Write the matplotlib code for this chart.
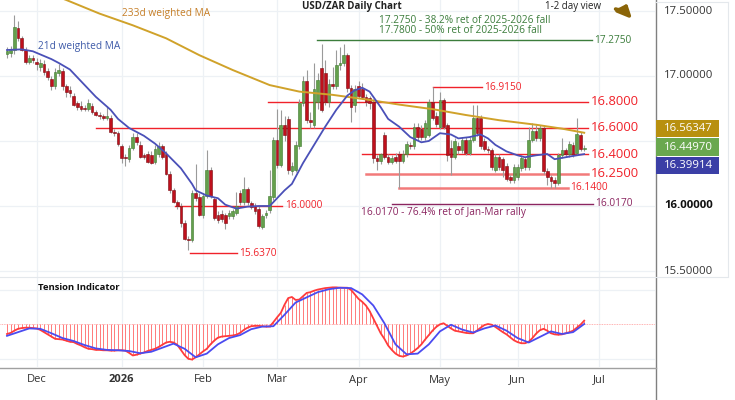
import numpy as np
import pandas as pd
import matplotlib
matplotlib.use('Agg')
import matplotlib.pyplot as plt
from matplotlib.patches import Rectangle, FancyArrowPatch
from matplotlib.lines import Line2D

plt.rcParams['font.family'] = ['Open Sans', 'DejaVu Sans']

# ---------------- data ----------------
start_date = '2025-11-19'

opens = [17.17, 17.18, 17.20, 17.37, 17.29, 17.20, 17.11, 17.14, 17.11, 17.07,
         17.09, 17.04, 16.98, 16.92, 17.02, 17.04, 16.92, 16.89, 16.85, 16.79,
         16.77, 16.75, 16.745, 16.77, 16.72, 16.70, 16.69, 16.68, 16.68, 16.57,
         16.56, 16.46, 16.38, 16.36, 16.45, 16.53, 16.47, 16.39, 16.40, 16.39,
         16.34, 16.40, 16.46, 16.40, 16.25, 16.12, 16.03, 16.00, 15.87, 15.75,
         15.74, 16.10, 16.07, 15.93, 16.08, 16.28, 16.05, 15.93, 15.94, 15.93,
         15.92, 15.92, 15.95, 16.10, 16.03, 16.13, 16.02, 16.00, 15.98, 15.84,
         15.93, 15.97, 16.07, 16.51, 16.315, 16.62, 16.67, 16.27, 16.28, 16.46,
         16.79, 16.96, 16.66, 16.62, 16.80, 17.06, 17.02, 16.80, 16.94, 16.92,
         17.085, 17.10, 17.16, 16.905, 16.78, 16.92, 16.90, 16.84, 16.83, 16.80,
         16.37, 16.35, 16.55, 16.38, 16.34, 16.38, 16.40, 16.35, 16.40, 16.47,
         16.46, 16.61, 16.59, 16.53, 16.55, 16.80, 16.69, 16.61, 16.815, 16.62,
         16.45, 16.38, 16.46, 16.43, 16.51, 16.41, 16.51, 16.68, 16.68, 16.50,
         16.44, 16.43, 16.28, 16.38, 16.36, 16.31, 16.22, 16.20, 16.22, 16.29,
         16.36, 16.30, 16.51, 16.58, 16.52, 16.60, 16.27, 16.22, 16.20, 16.18,
         16.39, 16.43, 16.40, 16.47, 16.41, 16.55, 16.44]
highs = [17.22, 17.23, 17.47, 17.42, 17.31, 17.22, 17.16, 17.16, 17.14, 17.13,
         17.12, 17.06, 17.00, 17.06, 17.09, 17.06, 16.94, 16.92, 16.87, 16.81,
         16.81, 16.78, 16.82, 16.79, 16.74, 16.72, 16.71, 16.77, 16.70, 16.59,
         16.58, 16.48, 16.40, 16.47, 16.56, 16.56, 16.50, 16.41, 16.42, 16.42,
         16.47, 16.49, 16.48, 16.42, 16.27, 16.14, 16.05, 16.02, 15.89, 15.77,
         16.12, 16.32, 16.10, 16.10, 16.43, 16.30, 16.07, 15.96, 15.97, 15.95,
         15.97, 15.98, 16.11, 16.12, 16.22, 16.15, 16.04, 16.02, 16.00, 15.94,
         15.97, 16.28, 16.53, 16.75, 16.74, 16.69, 16.69, 16.34, 16.50, 16.82,
         17.00, 17.05, 16.72, 17.10, 17.02, 17.25, 17.12, 16.98, 17.07, 17.20,
         17.22, 17.25, 17.18, 16.93, 16.93, 16.96, 16.95, 16.86, 16.85, 16.82,
         16.39, 16.41, 16.57, 16.40, 16.39, 16.41, 16.42, 16.43, 16.50, 16.49,
         16.64, 16.64, 16.62, 16.66, 16.82, 16.915, 16.72, 16.88, 16.83, 16.64,
         16.51, 16.52, 16.49, 16.53, 16.53, 16.53, 16.78, 16.78, 16.70, 16.52,
         16.46, 16.45, 16.40, 16.40, 16.38, 16.33, 16.24, 16.32, 16.32, 16.39,
         16.38, 16.61, 16.64, 16.62, 16.62, 16.62, 16.29, 16.24, 16.22, 16.41,
         16.52, 16.45, 16.50, 16.49, 16.68, 16.57, 16.47]
lows = [17.14, 17.15, 17.17, 17.27, 17.19, 17.09, 17.09, 17.10, 17.05, 17.04,
        17.01, 16.97, 16.89, 16.90, 17.00, 16.89, 16.84, 16.84, 16.77, 16.74,
        16.73, 16.73, 16.73, 16.71, 16.69, 16.67, 16.66, 16.66, 16.56, 16.54,
        16.46, 16.33, 16.31, 16.34, 16.43, 16.47, 16.37, 16.36, 16.33, 16.32,
        16.32, 16.38, 16.36, 16.24, 16.10, 16.02, 15.98, 15.84, 15.74, 15.66,
        15.72, 16.04, 15.92, 15.91, 16.06, 16.06, 15.89, 15.87, 15.88, 15.82,
        15.90, 15.90, 15.93, 16.01, 16.01, 16.01, 15.98, 15.94, 15.83, 15.82,
        15.91, 15.95, 16.05, 16.29, 16.30, 16.50, 16.25, 16.24, 16.26, 16.44,
        16.77, 16.64, 16.60, 16.60, 16.75, 16.72, 16.78, 16.76, 16.90, 16.90,
        17.05, 17.08, 16.88, 16.65, 16.72, 16.83, 16.82, 16.77, 16.75, 16.33,
        16.28, 16.32, 16.36, 16.32, 16.32, 16.33, 16.14, 16.33, 16.38, 16.44,
        16.44, 16.51, 16.51, 16.51, 16.53, 16.66, 16.61, 16.59, 16.59, 16.35,
        16.24, 16.36, 16.40, 16.41, 16.39, 16.39, 16.49, 16.54, 16.44, 16.42,
        16.41, 16.28, 16.26, 16.28, 16.22, 16.19, 16.18, 16.18, 16.20, 16.27,
        16.28, 16.28, 16.49, 16.50, 16.50, 16.25, 16.16, 16.14, 16.14, 16.16,
        16.37, 16.38, 16.38, 16.38, 16.39, 16.42, 16.42]
closes = [17.19, 17.20, 17.38, 17.29, 17.20, 17.11, 17.14, 17.12, 17.09, 17.10,
          17.03, 16.99, 16.92, 17.03, 17.05, 16.92, 16.88, 16.87, 16.78, 16.76,
          16.75, 16.745, 16.79, 16.72, 16.70, 16.69, 16.68, 16.69, 16.57, 16.56,
          16.48, 16.37, 16.37, 16.45, 16.53, 16.49, 16.38, 16.38, 16.34, 16.33,
          16.44, 16.46, 16.38, 16.25, 16.12, 16.03, 16.00, 15.87, 15.75, 15.74,
          16.10, 16.06, 15.93, 16.08, 16.28, 16.08, 15.91, 15.89, 15.90, 15.87,
          15.95, 15.96, 16.00, 16.03, 16.13, 16.03, 15.995, 15.96, 15.85, 15.92,
          15.95, 16.08, 16.51, 16.315, 16.62, 16.55, 16.28, 16.31, 16.47, 16.79,
          16.96, 16.66, 16.65, 16.90, 16.97, 16.74, 16.80, 16.94, 16.92, 17.085,
          17.10, 17.16, 16.905, 16.76, 16.90, 16.85, 16.84, 16.80, 16.79, 16.37,
          16.35, 16.40, 16.38, 16.34, 16.37, 16.35, 16.35, 16.40, 16.48, 16.46,
          16.61, 16.53, 16.53, 16.64, 16.80, 16.675, 16.63, 16.815, 16.61, 16.39,
          16.38, 16.50, 16.43, 16.51, 16.41, 16.51, 16.68, 16.56, 16.46, 16.44,
          16.43, 16.30, 16.38, 16.30, 16.28, 16.21, 16.20, 16.30, 16.30, 16.37,
          16.30, 16.51, 16.58, 16.52, 16.60, 16.27, 16.22, 16.19, 16.18, 16.39,
          16.43, 16.40, 16.48, 16.40, 16.55, 16.44, 16.45]

ma21_idx = [0, 4, 7, 12, 14, 17, 21, 24, 28, 30, 33, 37, 40, 43, 47, 50, 51, 54, 57,
            59, 62, 65, 68, 71, 73, 75, 77, 80, 83, 86, 89, 92, 94, 96, 98, 99, 101,
            103, 106, 109, 112, 114, 117, 120, 122, 125, 128, 130, 132, 135, 138,
            140, 143, 146, 148, 150, 153, 156]
ma21_val = [17.20, 17.205, 17.19, 17.13, 17.10, 17.05, 16.93, 16.84, 16.74, 16.67,
            16.60, 16.54, 16.48, 16.405, 16.29, 16.17, 16.12, 16.08, 16.06, 16.01,
            15.98, 15.995, 16.00, 16.00, 16.06, 16.12, 16.17, 16.33, 16.47, 16.61,
            16.74, 16.85, 16.89, 16.91, 16.88, 16.84, 16.76, 16.67, 16.61, 16.53,
            16.49, 16.50, 16.56, 16.55, 16.52, 16.53, 16.55, 16.52, 16.47, 16.42,
            16.39, 16.375, 16.39, 16.40, 16.36, 16.37, 16.385, 16.39914]

ma233_idx = [10, 16, 25, 34, 43, 52, 61, 71, 79, 88, 97, 106, 115, 124, 133, 143, 150, 156]
ma233_val = [17.65, 17.585, 17.48, 17.39, 17.29, 17.16, 17.046, 16.93, 16.88, 16.855,
             16.82, 16.78, 16.745, 16.70, 16.66, 16.625, 16.595, 16.56347]

tension_red = [-0.27, -0.24, -0.18, -0.13, -0.11, -0.10, -0.10, -0.11, -0.12, -0.16,
               -0.22, -0.28, -0.34, -0.40, -0.41, -0.42, -0.45, -0.48, -0.49, -0.54,
               -0.58, -0.63, -0.67, -0.68, -0.70, -0.70, -0.71, -0.71, -0.72, -0.72,
               -0.71, -0.71, -0.72, -0.78, -0.85, -0.83, -0.80, -0.77, -0.73, -0.70,
               -0.67, -0.62, -0.56, -0.50, -0.48, -0.50, -0.56, -0.70, -0.84, -0.94,
               -0.96, -0.90, -0.82, -0.74, -0.67, -0.55, -0.45, -0.37, -0.34, -0.33,
               -0.32, -0.31, -0.29, -0.24, -0.16, -0.10, -0.06, -0.05, -0.05, -0.06,
               -0.07, -0.07, 0.05, 0.18, 0.30, 0.52, 0.70, 0.73, 0.65, 0.66,
               0.75, 0.84, 0.86, 0.90, 0.93, 0.95, 0.97, 0.98, 0.99, 0.99,
               0.98, 0.98, 0.98, 0.92, 0.80, 0.68, 0.60, 0.50, 0.35, 0.15,
               -0.05, -0.25, -0.40, -0.58, -0.70, -0.80, -0.86, -0.88, -0.85, -0.80,
               -0.73, -0.65, -0.55, -0.42, -0.30, -0.18, -0.08, -0.01, 0.02, -0.05,
               -0.12, -0.18, -0.20, -0.22, -0.24, -0.25, -0.25, -0.18, -0.10, -0.03,
               0.00, -0.02, -0.08, -0.15, -0.22, -0.28, -0.36, -0.44, -0.49, -0.52,
               -0.52, -0.48, -0.38, -0.26, -0.17, -0.13, -0.18, -0.25, -0.28, -0.29,
               -0.28, -0.25, -0.22, -0.18, -0.10, -0.02, 0.09]
tension_blue_idx = [0, 3, 6, 9, 12, 15, 18, 21, 24, 27, 30, 33, 36, 39, 42, 45, 48, 51,
                    54, 57, 60, 63, 66, 69, 72, 75, 78, 81, 84, 87, 90, 93, 96, 99, 102,
                    105, 108, 111, 114, 117, 120, 123, 126, 129, 132, 135, 138, 141,
                    144, 147, 150, 153, 156]
tension_blue_val = [-0.32, -0.22, -0.12, -0.13, -0.25, -0.38, -0.46, -0.57, -0.66, -0.70,
                    -0.71, -0.73, -0.79, -0.75, -0.64, -0.53, -0.67, -0.90, -0.80, -0.55,
                    -0.38, -0.30, -0.14, -0.07, -0.06, 0.25, 0.58, 0.72, 0.86, 0.94,
                    0.98, 0.97, 0.80, 0.50, 0.02, -0.55, -0.82, -0.80, -0.55, -0.20,
                    -0.02, -0.15, -0.23, -0.12, -0.04, -0.18, -0.38, -0.50, -0.35, -0.20,
                    -0.27, -0.22, 0.00]

# horizontal levels
red_levels = [16.80, 16.60, 16.40, 16.25]
red_level_start = [70.5, 24, 96, 97]
level_16915 = 16.915
level_16140 = 16.14
level_16000 = 16.00
level_15637 = 15.637
level_17275 = 17.275
level_16017 = 16.017
last_prices = [16.56347, 16.44970, 16.39914]
y_ticks = [17.5, 17.0, 16.0, 15.5]
month_labels = ['Dec', '2026', 'Feb', 'Mar', 'Apr', 'May', 'Jun', 'Jul']

# ---------------- geometry ----------------
W, H = 735, 400
fig = plt.figure(figsize=(W / 100, H / 100), dpi=100)
fig.patch.set_facecolor('white')

PX_PER_DAY = 3.7
X0 = 7.0      # pixel of first candle
def ix(px):   # pixel x -> index
    return (px - X0) / PX_PER_DAY
def py(p):    # price -> pixel y
    return 11 + (17.5 - p) * 130
def fpx(px):
    return px / W
def fpy(pyv):
    return 1 - pyv / H

XLIM = (ix(0), ix(655))
YLIM = (17.5 - 265 / 130, 17.5 + 11 / 130)

ax = fig.add_axes([0, fpy(276), 655 / W, 276 / H])
ax2 = fig.add_axes([0, fpy(367), 655 / W, 91 / H])
for a in (ax, ax2):
    a.set_xlim(*XLIM)
    a.set_xticks([])
    a.set_yticks([])
    for s in a.spines.values():
        s.set_visible(False)
    a.set_facecolor('white')
ax.set_ylim(*YLIM)
ax2.set_ylim(-1.162, 1.297)

n = len(closes)
idx = np.arange(n)
all_days = pd.bdate_range(start_date, '2026-07-31')
month_pos = [i for i in range(1, len(all_days)) if all_days[i].month != all_days[i - 1].month]

grid_c = '#edf1f5'
for m in month_pos:
    ax.axvline(m, color=grid_c, lw=0.9, zorder=0)
    ax2.axvline(m, color=grid_c, lw=0.9, zorder=0)
for v in [17.5, 17.0, 16.5, 16.0, 15.5]:
    ax.axhline(v, color=grid_c, lw=0.9, zorder=0)
for v in [0.92, -0.95]:
    ax2.axhline(v, color=grid_c, lw=0.9, zorder=0)

# ---------------- candles ----------------
o = np.array(opens); h = np.array(highs); l = np.array(lows); c = np.array(closes)
up = c >= o
ax.vlines(idx, l, h, color='#9a9a9a', lw=0.8, zorder=3)
body_bottom = np.minimum(o, c)
body_h = np.maximum(np.abs(c - o), 0.006)
ax.bar(idx[up], body_h[up], bottom=body_bottom[up], width=0.72,
       color='#64a04c', edgecolor='#3e7a2e', linewidth=0.4, zorder=4)
ax.bar(idx[~up], body_h[~up], bottom=body_bottom[~up], width=0.72,
       color='#bf101c', edgecolor='#7a0a10', linewidth=0.4, zorder=4)

# ---------------- moving averages ----------------
ax.plot(ma233_idx, ma233_val, color='#d0a22a', lw=1.4, zorder=5)
ax.plot(ma21_idx, ma21_val, color='#4a50b8', lw=1.3, zorder=5)

# ---------------- levels ----------------
red = '#f0222a'
end_i = ix(588)
for v, s in zip(red_levels, red_level_start):
    lw = 1.0 if v >= 16.4 else 1.8
    col = red if v >= 16.4 else '#f27a7a'
    ax.plot([s, end_i], [v, v], color=col, lw=lw, zorder=2)
    fig.text(fpx(591), fpy(py(v)), f'{v:.4f}', color=red, fontsize=9.4,
             ha='left', va='center')
ax.plot([ix(433), ix(482)], [level_16915] * 2, color=red, lw=1.0, zorder=2)
fig.text(fpx(484), fpy(py(level_16915)), f'{level_16915:.4f}', color=red,
         fontsize=7.3, ha='left', va='center')
ax.plot([ix(399), ix(568)], [level_16140] * 2, color='#f27a7a', lw=1.8, zorder=2)
fig.text(fpx(570), fpy(py(level_16140)), f'{level_16140:.4f}', color=red,
         fontsize=7.3, ha='left', va='center')
ax.plot([ix(175), ix(282)], [level_16000] * 2, color=red, lw=1.0, zorder=2)
fig.text(fpx(285), fpy(py(level_16000)), f'{level_16000:.4f}', color=red,
         fontsize=7.3, ha='left', va='center')
ax.plot([ix(190), ix(237)], [level_15637] * 2, color=red, lw=1.0, zorder=2)
fig.text(fpx(239), fpy(py(level_15637)), f'{level_15637:.4f}', color=red,
         fontsize=7.3, ha='left', va='center')

green = '#3c7d3c'
ax.plot([ix(317), ix(592)], [level_17275] * 2, color=green, lw=1.0, zorder=2)
fig.text(fpx(594), fpy(py(level_17275)), f'{level_17275:.4f}', color=green,
         fontsize=7.3, ha='left', va='center')
fig.text(fpx(379), fpy(20.3), '17.2750 - 38.2% ret of 2025-2026 fall', color=green,
         fontsize=7.3, ha='left', va='center')
fig.text(fpx(379), fpy(30.5), '17.7800 - 50% ret of 2025-2026 fall', color=green,
         fontsize=7.3, ha='left', va='center')

purple = '#8b2560'
ax.plot([ix(392), ix(593)], [level_16017] * 2, color=purple, lw=1.0, zorder=2)
fig.text(fpx(595), fpy(py(level_16017)), f'{level_16017:.4f}', color=purple,
         fontsize=7.3, ha='left', va='center')
fig.text(fpx(361), fpy(213), '16.0170 - 76.4% ret of Jan-Mar rally', color=purple,
         fontsize=7.3, ha='left', va='center')

fig.text(fpx(122), fpy(13.7), '233d weighted MA', color='#c67f28', fontsize=7.3,
         ha='left', va='center')
fig.text(fpx(38), fpy(47), '21d weighted MA', color='#3f5ba9', fontsize=7.3,
         ha='left', va='center')

# title pieces at top
fig.text(fpx(352), fpy(0.5), 'USD/ZAR Daily Chart', color='#222222', fontsize=7.0,
         ha='center', va='top', fontweight='bold')
fig.text(fpx(573), fpy(0.5), '1-2 day view', color='#222222', fontsize=7.0,
         ha='center', va='top')
arr = FancyArrowPatch((fpx(613), fpy(8)), (fpx(628), fpy(1)),
                      transform=fig.transFigure, connectionstyle='arc3,rad=0.6',
                      arrowstyle='-|>,head_length=3.5,head_width=3', color='#8b6508',
                      lw=2.6, mutation_scale=1.6)
fig.patches.append(arr)

# ---------------- tension indicator ----------------
tr = np.array(tension_red)
ax2.axhline(0, color='#ff9a9a', lw=0.6, ls=(0, (1, 1)), zorder=1)
ax2.vlines(idx, 0, tr, color='#ff7a7a', lw=0.7, zorder=2)
ax2.plot(idx, tr, color='#ff3b3b', lw=1.3, zorder=3)
ax2.plot(tension_blue_idx, tension_blue_val, color='#4b4bf0', lw=1.3, zorder=4)
fig.text(fpx(38), fpy(288), 'Tension Indicator', color='#111111', fontsize=6.8,
         fontweight='bold', ha='left', va='center')

# ---------------- frames ----------------
fig.add_artist(Line2D([fpx(655.5)] * 2, [0, 1], transform=fig.transFigure,
                      color='#808080', lw=1.0))
fig.add_artist(Line2D([0, fpx(655.5)], [fpy(367.5)] * 2, transform=fig.transFigure,
                      color='#a0a0a0', lw=1.0))
fig.add_artist(Line2D([0, fpx(728)], [fpy(276.5)] * 2, transform=fig.transFigure,
                      color='#e4e8ec', lw=0.8))
fig.add_artist(Line2D([fpx(728)] * 2, [fpy(2), fpy(276)], transform=fig.transFigure,
                      color='#e4e8ec', lw=0.8))
fig.add_artist(Line2D([fpx(656), fpx(728)], [fpy(2)] * 2, transform=fig.transFigure,
                      color='#e4e8ec', lw=0.8))

# ---------------- x labels ----------------
for lab, m in zip(month_labels, month_pos):
    xp = X0 + m * PX_PER_DAY
    fig.text(fpx(xp), fpy(380), lab, color='#333333', fontsize=8, ha='center',
             va='center', fontweight='bold' if lab == '2026' else 'normal')

# ---------------- price scale ----------------
for v in y_ticks:
    fig.text(fpx(664), fpy(py(v)), f'{v:.5f}', color='#111111' if v == 16.0 else '#333333',
             fontsize=8.2, ha='left', va='center',
             fontweight='bold' if v == 16.0 else 'normal')

box_cols = ['#b8900f', '#6aa84f', '#3b3fa6']
box_shift = [-4.5, -0.5, 11]
for v, col, sh in zip(last_prices, box_cols, box_shift):
    cy = py(v) + sh
    fig.patches.append(Rectangle((fpx(656), fpy(cy + 8.6)), 63 / W, 17.2 / H,
                                 transform=fig.transFigure, facecolor=col,
                                 edgecolor='none', zorder=5))
    fig.text(fpx(664), fpy(cy), f'{v:.5f}', color='white', fontsize=8.2,
             ha='left', va='center', zorder=6)

fig.savefig('out.png', dpi=100, facecolor='white')
